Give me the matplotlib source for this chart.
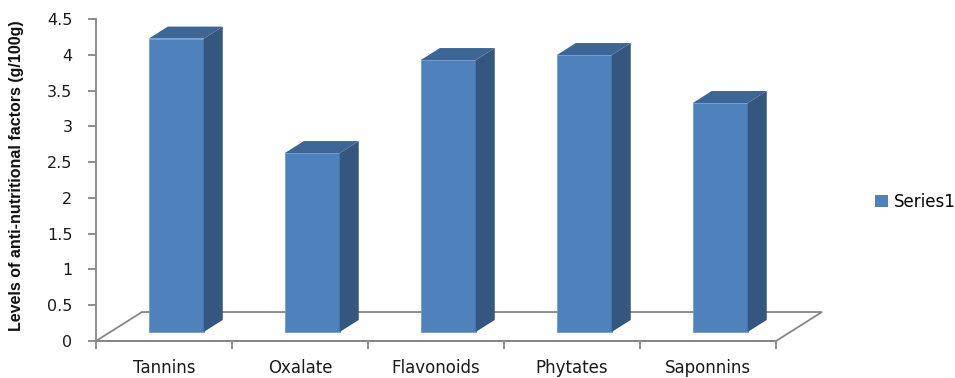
import matplotlib.pyplot as plt
import numpy as np
from matplotlib.patches import Polygon, Patch

categories = ['Tannins', 'Oxalate', 'Flavonoids', 'Phytates', 'Saponnins']
levels = [4.1, 2.5, 3.8, 3.87, 3.2]
series_name = 'Series1'

# colours of the three visible faces of each column
front_col = '#4f81bd'
side_col = '#34567f'
top_col = '#3d6595'
line_col = '#868686'

# oblique depth of the floor and of the columns (data units)
floor_dx, floor_dy = 0.338, 0.405
bar_dx, bar_dy = 0.14, 0.168
bar_shift, bar_base = 0.09, 0.126
bar_w = 0.404

fig = plt.figure(figsize=(9.55, 3.78), dpi=100)
ax = fig.add_axes([96/955, 37/378, 5.5*136/955, 322/378])
ax.set_xlim(0, 5.5)
ax.set_ylim(0, 4.5)

# floor outline
n = len(categories)
floor = [(0, 0), (n, 0), (n + floor_dx, floor_dy), (floor_dx, floor_dy)]
ax.add_patch(Polygon(floor, closed=True, fill=False, edgecolor=line_col,
                     lw=1.3, zorder=1, clip_on=False))

x = np.arange(n) + 0.5 + bar_shift
ax.bar(x, levels, width=bar_w, bottom=bar_base, color=front_col,
       edgecolor='#6f9bd0', linewidth=0.6, zorder=3)
for xi, v in zip(x, levels):
    r = xi + bar_w / 2
    l = xi - bar_w / 2
    top = bar_base + v
    side = [(r, bar_base), (r + bar_dx, bar_base + bar_dy),
            (r + bar_dx, top + bar_dy), (r, top)]
    cap = [(l, top), (r, top), (r + bar_dx, top + bar_dy), (l + bar_dx, top + bar_dy)]
    ax.add_patch(Polygon(side, closed=True, facecolor=side_col, edgecolor='none', zorder=3))
    ax.add_patch(Polygon(cap, closed=True, facecolor=top_col, edgecolor='none', zorder=3))

for s in ['top', 'right']:
    ax.spines[s].set_visible(False)
for s in ['left', 'bottom']:
    ax.spines[s].set_color(line_col)
    ax.spines[s].set_linewidth(1.3)
ax.spines['bottom'].set_bounds(0, n)

ax.set_yticks(np.arange(0, 4.51, 0.5))
ax.set_yticklabels(['0', '0.5', '1', '1.5', '2', '2.5', '3', '3.5', '4', '4.5'])
ax.tick_params(axis='y', length=6, width=1.3, color=line_col, pad=11,
               labelsize=11.5, labelcolor='#1a1a1a')

ax.set_xticks(np.arange(n + 1))
ax.set_xticklabels([])
ax.set_xticks(np.arange(n) + 0.5, minor=True)
ax.set_xticklabels(categories, minor=True)
ax.tick_params(axis='x', which='major', length=6, width=1.3, color=line_col)
ax.tick_params(axis='x', which='minor', length=0, pad=13, labelsize=12,
               labelcolor='#1a1a1a')

fig.text(17/955, 0.534, 'Levels of anti-nutritional factors (g/100g)',
         rotation=90, ha='center', va='center', fontsize=11.5, fontweight='bold',
         family=['Liberation Sans Narrow', 'Liberation Sans', 'DejaVu Sans'],
         color='#111111')

fig.legend(handles=[Patch(facecolor=front_col, edgecolor='none', label=series_name)],
           loc='center left', bbox_to_anchor=(0.9, 0.466), frameon=False,
           handlelength=0.8, handleheight=0.8, handletextpad=0.35, fontsize=12)

fig.savefig('out.png', dpi=100)
